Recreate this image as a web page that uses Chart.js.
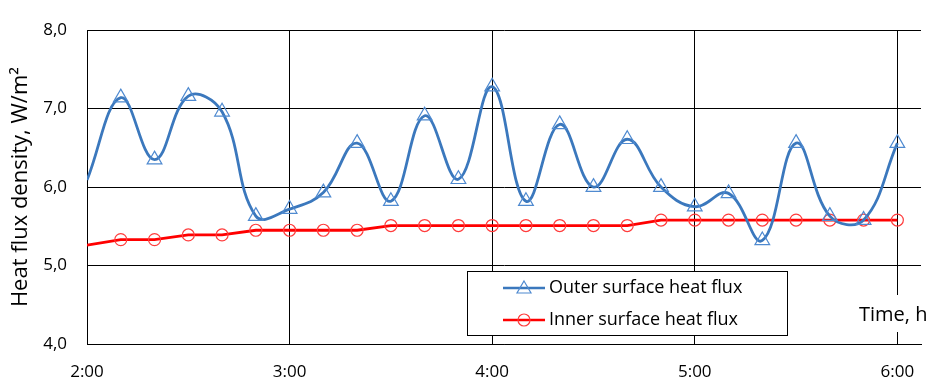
<!DOCTYPE html>
<html>
<head>
<meta charset="utf-8">
<script src="https://cdn.jsdelivr.net/npm/chart.js@4"></script>
<style>
html, body { margin: 0; padding: 0; background: #fff; }
#wrap { width: 938px; height: 384px; }
</style>
</head>
<body>
<div id="wrap"><canvas id="myChart" width="938" height="384"></canvas></div>
<script>
// time in minutes after midnight, every 10 min from 2:00 to 6:00
var minutes = [120,130,140,150,160,170,180,190,200,210,220,230,240,250,260,270,280,290,300,310,320,330,340,350,360];
var outerFlux = [6.09,7.14,6.35,7.16,6.96,5.63,5.72,5.93,6.56,5.82,6.91,6.10,7.28,5.82,6.80,6.00,6.61,6.00,5.75,5.92,5.32,6.56,5.63,5.58,6.56];
var innerFlux = [5.26,5.33,5.33,5.39,5.39,5.45,5.45,5.45,5.45,5.51,5.51,5.51,5.51,5.51,5.51,5.51,5.51,5.58,5.58,5.58,5.58,5.58,5.58,5.58,5.58];
var xTickLabels = ['2:00','3:00','4:00','5:00','6:00'];
var seriesNames = ['Outer surface heat flux','Inner surface heat flux'];
var yTitle = 'Heat flux density, W/m\u00B2';
var xTitle = 'Time, h';

var fam = "'Open Sans', 'Noto Sans', sans-serif";
var blue = '#3b78bd', blueMark = '#4f8ad0';
var red = '#ff0000', redMark = '#ff3c3c';

function pts(vals){
  var out = [];
  for (var i = 0; i < minutes.length; i++) out.push({x: minutes[i], y: vals[i]});
  return out;
}
// no marker on the first sample (2:00)
var radii = minutes.map(function(m, i){ return i === 0 ? 0 : 1; });

var overlay = {
  id: 'overlay',
  afterDraw: function(chart){
    var ctx = chart.ctx;
    ctx.save();
    // axis title at the lower right
    ctx.fillStyle = '#fff';
    ctx.fillRect(855, 295, 83, 37);
    ctx.fillStyle = '#000';
    ctx.font = '20px ' + fam;
    ctx.textBaseline = 'middle';
    ctx.textAlign = 'left';
    ctx.fillText(xTitle, 859, 315);

    // legend box
    ctx.fillStyle = '#fff';
    ctx.fillRect(467, 271, 320, 64);
    ctx.strokeStyle = '#000';
    ctx.lineWidth = 1;
    ctx.strokeRect(467.5, 271.5, 320, 64);

    var rows = [288, 320];
    chart.data.datasets.forEach(function(ds, k){
      var y = rows[k];
      ctx.strokeStyle = ds.borderColor;
      ctx.lineWidth = 2.5;
      ctx.beginPath();
      ctx.moveTo(503, y); ctx.lineTo(545, y);
      ctx.stroke();
      ctx.strokeStyle = ds.pointBorderColor;
      ctx.lineWidth = 1.2;
      ctx.beginPath();
      if (ds.pointStyle === 'triangle') {
        ctx.moveTo(524, y - 7); ctx.lineTo(531, y + 5); ctx.lineTo(517, y + 5); ctx.closePath();
      } else {
        ctx.arc(524, y, 6, 0, Math.PI * 2);
      }
      ctx.stroke();
      ctx.fillStyle = '#000';
      ctx.font = '18px ' + fam;
      ctx.fillText(ds.label, 549, y);
    });
    ctx.restore();
  }
};

new Chart("myChart", {
  type: "line",
  data: {
    datasets: [{
      label: seriesNames[0],
      data: pts(outerFlux),
      borderColor: blue,
      borderWidth: 2.8,
      tension: 0.4,
      pointStyle: 'triangle',
      pointRadius: radii.map(function(r){ return r * 8.5; }),
      pointBorderColor: blueMark,
      pointBorderWidth: 1.2,
      pointBackgroundColor: 'rgba(0,0,0,0)',
      fill: false
    },{
      label: seriesNames[1],
      data: pts(innerFlux),
      borderColor: red,
      borderWidth: 2.8,
      tension: 0,
      pointStyle: 'circle',
      pointRadius: radii.map(function(r){ return r * 6; }),
      pointBorderColor: redMark,
      pointBorderWidth: 1.2,
      pointBackgroundColor: 'rgba(0,0,0,0)',
      fill: false
    }]
  },
  options: {
    responsive: false,
    animation: false,
    events: [],
    layout: { padding: { left: 0, right: 17, top: 17, bottom: 0 } },
    plugins: { legend: { display: false }, tooltip: { enabled: false } },
    scales: {
      x: {
        type: 'linear',
        min: 120,
        max: 367,
        afterFit: function(s){ s.height = 40; },
        grid: { color: '#000', lineWidth: 1, drawTicks: false },
        border: { color: '#000', width: 1 },
        ticks: {
          stepSize: 60,
          includeBounds: false,
          maxRotation: 0,
          padding: 18,
          color: '#000',
          font: { family: fam, size: 17 },
          callback: function(v){ return xTickLabels[(v - 120) / 60]; }
        }
      },
      y: {
        min: 4,
        max: 8,
        afterFit: function(s){ s.width = 87; },
        grid: { color: '#000', lineWidth: 1, drawTicks: false },
        border: { color: '#000', width: 1 },
        ticks: {
          stepSize: 1,
          padding: 20,
          color: '#000',
          font: { family: fam, size: 17 },
          callback: function(v){ return v.toFixed(1).replace('.', ','); }
        },
        title: {
          display: true,
          text: yTitle,
          color: '#000',
          font: { family: fam, size: 22 },
          padding: { top: 8, bottom: 0 }
        }
      }
    }
  },
  plugins: [overlay]
});
</script>
</body>
</html>
